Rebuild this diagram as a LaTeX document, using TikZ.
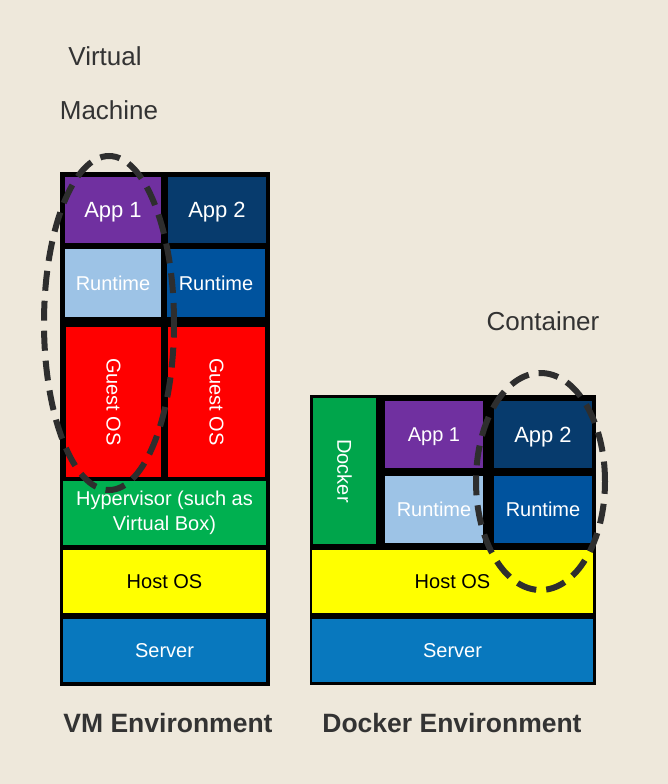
\documentclass[tikz,border=0pt]{standalone}
\usepackage{fontspec}
\setmainfont{Liberation Sans}
\usepackage{tikz}
\usetikzlibrary{positioning}
\definecolor{paper}{HTML}{EEE8DB}
\definecolor{ink}{HTML}{333333}
\definecolor{ringgray}{HTML}{2E2E2E}
\definecolor{apppurple}{HTML}{7030A0}
\definecolor{appnavy}{HTML}{073B6D}
\definecolor{rtlight}{HTML}{9DC3E6}
\definecolor{rtblue}{HTML}{00539E}
\definecolor{guestred}{HTML}{FF0000}
\definecolor{hypgreen}{HTML}{00B050}
\definecolor{hostyellow}{HTML}{FFFF00}
\definecolor{serverblue}{HTML}{0878BE}
\tikzset{
    cell/.style={rectangle, inner sep=0pt, outer sep=0pt, anchor=north west,
      text=white, font=\fontsize{20}{25}\selectfont},
    appcell/.style={cell, text depth=0pt, font=\fontsize{22}{26}\selectfont},
    backing/.style={rectangle, fill=black, inner sep=0pt, outer sep=0pt, anchor=north west},
    ring/.style={draw=ringgray, line width=6pt, dash pattern=on 20pt off 10pt},
    caption/.style={text=ink, font=\fontsize{26}{30}\selectfont},
    title/.style={text=ink, font=\bfseries\fontsize{26.5}{30}\selectfont},
}
\begin{document}
\begin{tikzpicture}[x=1pt, y=-1pt]
    \useasboundingbox (0,0) rectangle (668,784);
    \fill[paper] (0,0) rectangle (668,784);

    % VM stack
    \node[backing, minimum width=210pt, minimum height=514pt] (vmBack) at (60,172) {};
    \node[appcell, fill=apppurple, minimum width=96pt, minimum height=66pt] (vmApp1) at (65,177) {App 1};
    \node[appcell, fill=appnavy, minimum width=98pt, minimum height=66pt] (vmApp2) at (168,177) {App 2};
    \node[cell, fill=rtlight, minimum width=96pt, minimum height=68pt] (vmRt1) at (65,249) {Runtime};
    \node[cell, fill=rtblue, minimum width=98pt, minimum height=68pt] (vmRt2) at (167,249) {Runtime};
    \node[cell, fill=guestred, minimum width=95pt, minimum height=150pt,
      label={[rotate=-90, text=white, font=\fontsize{20}{25}\selectfont]center:Guest OS}] (vmGuest1) at (66,327) {};
    \node[cell, fill=guestred, minimum width=97pt, minimum height=150pt,
      label={[rotate=-90, text=white, font=\fontsize{20}{25}\selectfont]center:Guest OS}] (vmGuest2) at (168,327) {};
    \node[cell, fill=hypgreen, minimum width=203pt, minimum height=64pt, align=center] (vmHyper) at (63,481) {Hypervisor (such as\\Virtual Box)};
    \node[cell, fill=hostyellow, text=black, minimum width=203pt, minimum height=63pt] (vmHost) at (63,550) {Host OS};
    \node[cell, fill=serverblue, minimum width=203pt, minimum height=63pt] (vmServer) at (63,619) {Server};

    % Docker stack
    \node[backing, minimum width=286pt, minimum height=290pt] (dkBack) at (310,395) {};
    \node[cell, fill=hypgreen!94!black, minimum width=63pt, minimum height=146pt,
      label={[rotate=-90, text=white, font=\fontsize{20}{25}\selectfont]center:Docker}] (dkDocker) at (313,398) {};
    \node[cell, text depth=0pt, fill=apppurple, minimum width=98pt, minimum height=67pt] (dkApp1) at (385,401) {App 1};
    \node[appcell, fill=appnavy, minimum width=98pt, minimum height=67pt] (dkApp2) at (494,401) {App 2};
    \node[cell, fill=rtlight, minimum width=98pt, minimum height=67pt] (dkRt1) at (385,476) {Runtime};
    \node[cell, fill=rtblue, minimum width=98pt, minimum height=67pt] (dkRt2) at (494,476) {Runtime};
    \node[cell, fill=hostyellow, text=black, minimum width=281pt, minimum height=63pt] (dkHost) at (312,550) {Host OS};
    \node[cell, fill=serverblue, minimum width=281pt, minimum height=63pt] (dkServer) at (312,619) {Server};

    % dashed rings
    \draw[ring] (109,323) ellipse [x radius=65pt, y radius=167pt];
    \draw[ring] (540.5,481.5) ellipse [x radius=64.5pt, y radius=108.5pt];

    % captions
    \node[caption] (virtual) at (105,56) {Virtual};
    \node[caption] (machine) at (109,110) {Machine};
    \node[caption] (container) at (543,321) {Container};
    \node[title] (vmTitle) at (168,723) {VM Environment};
    \node[title] (dkTitle) at (452,723) {Docker Environment};
\end{tikzpicture}
\end{document}
